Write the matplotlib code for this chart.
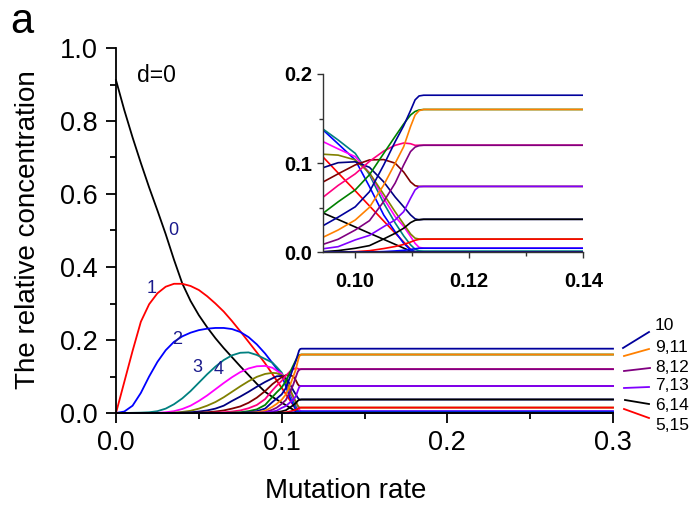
import matplotlib.pyplot as plt
from matplotlib.lines import Line2D
from matplotlib.ticker import MultipleLocator

plt.rcParams['font.family'] = ['Liberation Sans', 'DejaVu Sans']

W, H = 691, 505

mu = [0, 0.005, 0.01, 0.015, 0.02, 0.025, 0.03, 0.035, 0.04, 0.045,
      0.05, 0.055, 0.06, 0.065, 0.07, 0.075, 0.08, 0.085, 0.09,
      0.0944, 0.097, 0.1, 0.1025, 0.105, 0.107, 0.1085, 0.1097, 0.1105,
      0.1112, 0.112, 0.114, 0.3]

# relative concentration of error class k (k = Hamming distance from master)
k0 = [0.912, 0.83, 0.755, 0.685, 0.618, 0.555, 0.49, 0.42, 0.355, 0.307,
      0.268, 0.235, 0.205, 0.178, 0.153, 0.128, 0.104, 0.08, 0.058,
      0.044, 0.0368, 0.0284, 0.0214, 0.0145, 0.0089, 0.0047, 0.0014, 0, 0, 0, 0, 0]
k1 = [0, 0.085, 0.17, 0.25, 0.298, 0.328, 0.346, 0.354, 0.354, 0.348,
      0.337, 0.32, 0.3, 0.278, 0.252, 0.224, 0.195, 0.166, 0.136,
      0.1066, 0.089, 0.069, 0.052, 0.035, 0.0216, 0.0115, 0.0034, 0.0003, 0, 0, 0, 0]
k2 = [0, 0.004, 0.02, 0.055, 0.10, 0.14, 0.172, 0.195, 0.21, 0.22,
      0.227, 0.231, 0.233, 0.233, 0.23, 0.222, 0.208, 0.188, 0.163,
      0.137, 0.1216, 0.1036, 0.0736, 0.0418, 0.023, 0.0101, 0.0026, 0.0008,
      0.0003, 0.0002, 0.0002, 0.0002]
k3 = [0, 0, 0.0005, 0.001, 0.002, 0.005, 0.012, 0.024, 0.04, 0.06,
      0.083, 0.106, 0.127, 0.145, 0.158, 0.165, 0.166, 0.159, 0.148,
      0.138, 0.126, 0.111, 0.087, 0.055, 0.033, 0.0184, 0.0084, 0.0035,
      0.0016, 0.0011, 0.0011, 0.0011]
k4 = [0, 0, 0, 0, 0, 0.0005, 0.002, 0.005, 0.011, 0.02,
      0.033, 0.048, 0.065, 0.082, 0.098, 0.112, 0.122, 0.128, 0.129,
      0.124, 0.116, 0.1073, 0.089, 0.0605, 0.040, 0.029, 0.0178, 0.010,
      0.0055, 0.0047, 0.0046, 0.0046]
k5 = [0] * 7 + [0.001, 0.003, 0.006, 0.012, 0.02, 0.03, 0.043, 0.058, 0.073,
                0.087, 0.099, 0.107,
                0.110, 0.109, 0.1036, 0.089, 0.065, 0.0454, 0.0316, 0.0206,
                0.0158, 0.0149, 0.0148, 0.0148, 0.0148]
k6 = [0] * 8 + [0.001, 0.002, 0.004, 0.007, 0.012, 0.02, 0.033, 0.045, 0.058,
                0.072, 0.085,
                0.095, 0.1005, 0.1015, 0.0953, 0.079, 0.062, 0.051, 0.042,
                0.0375, 0.0365, 0.037, 0.037, 0.037]
k7 = [0] * 10 + [0.001, 0.002, 0.004, 0.007, 0.012, 0.018, 0.028, 0.042, 0.06,
                 0.079, 0.088, 0.098, 0.1036, 0.104, 0.1, 0.09, 0.079,
                 0.0747, 0.0739, 0.0739, 0.0739, 0.0739]
k8 = [0] * 12 + [0.001, 0.002, 0.004, 0.007, 0.013, 0.022, 0.038,
                 0.062, 0.075, 0.088, 0.102, 0.1136, 0.120, 0.1226, 0.1218,
                 0.120, 0.1201, 0.1201, 0.1201, 0.1201]
k9 = [0] * 14 + [0.001, 0.002, 0.005, 0.01, 0.022,
                 0.044, 0.0566, 0.070, 0.087, 0.111, 0.130, 0.144, 0.154,
                 0.158, 0.1596, 0.1602, 0.1602, 0.1602]
k10 = [0] * 15 + [0.0005, 0.002, 0.005, 0.012,
                  0.030, 0.0394, 0.051, 0.068, 0.098, 0.124, 0.142, 0.159,
                  0.171, 0.1754, 0.1762, 0.1762, 0.1762]
k11 = [0] * 16 + [0.0005, 0.002, 0.006,
                  0.017, 0.025, 0.0362, 0.0505, 0.0755, 0.0998, 0.1185, 0.141,
                  0.154, 0.1589, 0.1602, 0.1602, 0.1602]
k12 = [0] * 17 + [0.0005, 0.002,
                  0.009, 0.0146, 0.025, 0.0355, 0.057, 0.0776, 0.098, 0.113,
                  0.118, 0.1196, 0.1201, 0.1201, 0.1201]
k13 = [0] * 18 + [0.0008,
                  0.004, 0.0063, 0.0139, 0.019, 0.0288, 0.0363, 0.0456, 0.0606,
                  0.070, 0.0736, 0.0739, 0.0739, 0.0739]
k14 = [0] * 19 + [0.0007, 0.0019, 0.0045, 0.0075, 0.015, 0.0213, 0.027, 0.0333,
                  0.0359, 0.0366, 0.037, 0.037, 0.037]
k15 = [0] * 19 + [0, 0.0003, 0.0007, 0.0018, 0.0042, 0.0065, 0.0088, 0.0115,
                  0.0135, 0.0145, 0.0148, 0.0148, 0.0148]
k16 = [0] * 19 + [0, 0, 0, 0.0003, 0.0008, 0.0015, 0.0022, 0.0032,
                  0.004, 0.0045, 0.0046, 0.0046, 0.0046]
k17 = [0] * 19 + [0, 0, 0, 0, 0.0001, 0.0003, 0.0005, 0.0007,
                  0.0009, 0.001, 0.0011, 0.0011, 0.0011]
k18 = [0] * 19 + [0, 0, 0, 0, 0, 0, 0.0001, 0.00013,
                  0.00016, 0.00018, 0.00018, 0.00018, 0.00018]
k19 = [0] * 19 + [0, 0, 0, 0, 0, 0, 0, 0,
                  0.00001, 0.00002, 0.00002, 0.00002, 0.00002]
k20 = [0] * 32

classes = [k0, k1, k2, k3, k4, k5, k6, k7, k8, k9, k10,
           k11, k12, k13, k14, k15, k16, k17, k18, k19, k20]
colors = ['black', 'red', 'blue', '#008080', '#FF00FF', '#808000', '#000080',
          '#800000', '#FF0080', '#008000', '#00009C', '#FF8000', '#800080',
          '#8000FF', 'black', 'red', 'blue', '#008080', '#FF00FF', '#808000',
          '#000080']

curve_labels = ['0', '1', '2', '3', '4']
curve_label_pos = [(0.0344, 0.50), (0.0213, 0.342), (0.0371, 0.202),
                   (0.0489, 0.126), (0.0618, 0.12)]

pair_labels = ['10', '9,11', '8,12', '7,13', '6,14', '5,15']
pair_colors = ['#00009C', '#FF8000', '#800080', '#8000FF', 'black', 'red']

fig = plt.figure(figsize=(W / 100, H / 100), dpi=100)

# main panel
ax = fig.add_axes([116 / W, 1 - 413 / H, 497 / W, 365 / H])
for ys, c in zip(classes, colors):
    ax.plot(mu, ys, color=c, lw=1.3, clip_on=False)
ax.set_xlim(0, 0.3)
ax.set_ylim(0, 1.0)
ax.xaxis.set_major_locator(MultipleLocator(0.1))
ax.xaxis.set_minor_locator(MultipleLocator(0.05))
ax.yaxis.set_major_locator(MultipleLocator(0.2))
ax.yaxis.set_minor_locator(MultipleLocator(0.1))
ax.xaxis.set_major_formatter(lambda v, p: f'{v:.1f}')
ax.yaxis.set_major_formatter(lambda v, p: f'{v:.1f}')
for s in ['top', 'right']:
    ax.spines[s].set_visible(False)
for s in ['left', 'bottom']:
    ax.spines[s].set_linewidth(1.3)
ax.tick_params(which='major', direction='out', length=7, width=1.3,
               labelsize=19.5, pad=6)
ax.tick_params(axis='x', which='major', pad=5)
ax.tick_params(which='minor', direction='out', length=4, width=1.3)

for t, (x, y) in zip(curve_labels, curve_label_pos):
    ax.text(x, y, t, color='#1A1A8C', fontsize=13, ha='center', va='center')

# inset zoom on the error threshold
axi = fig.add_axes([323.3 / W, 1 - 252.3 / H, 260 / W, 178.3 / H])
for ys, c in zip(classes, colors):
    axi.plot(mu, ys, color=c, lw=1.2)
axi.set_xlim(0.0944, 0.14)
axi.set_ylim(0, 0.2)
axi.xaxis.set_major_locator(MultipleLocator(0.02))
axi.xaxis.set_minor_locator(MultipleLocator(0.01))
axi.yaxis.set_major_locator(MultipleLocator(0.1))
axi.yaxis.set_minor_locator(MultipleLocator(0.05))
axi.xaxis.set_major_formatter(lambda v, p: f'{v:.2f}')
axi.yaxis.set_major_formatter(lambda v, p: f'{v:.1f}')
for s in ['top', 'right']:
    axi.spines[s].set_visible(False)
for s in ['left', 'bottom']:
    axi.spines[s].set_linewidth(1.0)
    axi.spines[s].set_color('#333333')
axi.tick_params(which='major', direction='out', length=4, width=1.0,
                labelsize=14.5, pad=4, color='#333333')
axi.tick_params(axis='x', which='major', pad=10)
axi.tick_params(which='minor', direction='out', length=3, width=1.0,
                color='#333333')
for lab in axi.get_xticklabels() + axi.get_yticklabels():
    lab.set_fontweight('bold')

# labels of the plateau pairs on the right
leaders = [((623, 348), (649, 332)), ((624, 356), (649, 349)),
           ((624, 371), (650, 368)), ((624, 388), (649, 387)),
           ((625, 400), (649, 404)), ((624, 409), (649, 418))]
label_y = [326, 347, 367, 386, 405, 425]
for t, c, ((x1, y1), (x2, y2)), ly in zip(pair_labels, pair_colors, leaders, label_y):
    fig.add_artist(Line2D([x1 / W, x2 / W], [1 - y1 / H, 1 - y2 / H],
                          color=c, lw=1.3))
    fig.text(655 / W, 1 - ly / H, t, fontsize=12.5, ha='left', va='center')

fig.text(137 / W, 1 - 82 / H, 'd=0', fontsize=16.5, va='baseline')
fig.text(10 / W, 1 - 33 / H, 'a', fontsize=30, va='baseline')
fig.text(346 / W, 1 - 498 / H, 'Mutation rate', fontsize=20,
         ha='center', va='baseline')
fig.text(28 / W, 1 - 230 / H, 'The relative concentration', fontsize=20,
         rotation=90, ha='center', va='center')

fig.savefig('out.png', dpi=100)
